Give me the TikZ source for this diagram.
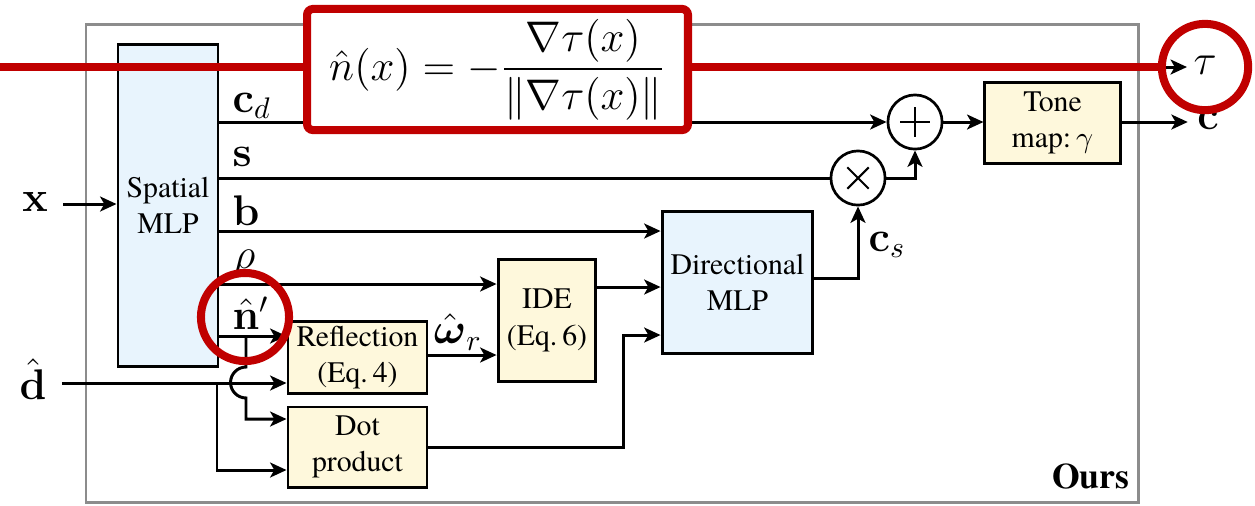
\documentclass[tikz,border=0pt]{standalone}
\usepackage{amsmath}
\usepackage[no-math]{fontspec}
\setmainfont{texgyretermes}[Extension=.otf, UprightFont=*-regular, BoldFont=*-bold,
  ItalicFont=*-italic, BoldItalicFont=*-bolditalic]
\usetikzlibrary{arrows.meta}
\definecolor{mlpblue}{HTML}{E8F4FD}
\definecolor{opyellow}{HTML}{FEF8DC}
\definecolor{hilite}{HTML}{C00000}
\definecolor{framegray}{HTML}{8C8C8C}
\tikzset{
  mlp/.style={draw, line width=1pt, fill=mlpblue, align=center, inner sep=0pt, font=\rmfamily\fontsize{10}{12}\selectfont},
  opbox/.style={draw, line width=1pt, fill=opyellow, align=center, inner sep=0pt, font=\rmfamily\fontsize{10}{12.2}\selectfont},
  opcirc/.style={draw, line width=0.9pt, circle, minimum size=18.2pt, inner sep=0pt},
  flow/.style={line width=1pt, -{Stealth[length=5.5pt,width=5pt,inset=1.4pt]}},
  wire/.style={line width=1pt},
  lbl/.style={inner sep=0pt, font=\fontsize{14}{16}\selectfont},
  redmark/.style={draw=hilite, line width=2.7pt},
}
\begin{document}
\begin{tikzpicture}[x=0.336pt, y=-0.336pt]
\useasboundingbox (0,0) rectangle (1255,505);

% outer frame
\draw[framegray, line width=1pt] (86,24) rectangle (1138,502);
\node[anchor=base east, inner sep=0pt, font=\rmfamily\fontsize{12}{14}\selectfont\bfseries] (ours) at (1130,488) {Ours};

% blocks
\node[mlp, minimum width=33.6pt, minimum height=108.5pt] (spatial) at (168,205.5) {Spatial\\MLP};
\node[mlp, minimum width=50.7pt, minimum height=48pt] (dir) at (737.5,282.5) {Directional\\MLP};
\node[opbox, minimum width=45.4pt, minimum height=26.9pt] (tone) at (1052.5,123) {Tone\\map:\,$\gamma$};
\node[opbox, minimum width=32.9pt, minimum height=41.3pt] (ide) at (547,320.5) {IDE\\(Eq.\,6)};
\node[opbox, minimum width=46.7pt, minimum height=24.5pt] (refl) at (357.5,357.5) {Reflection\\(Eq.\,4)};
\node[opbox, minimum width=46.7pt, minimum height=26.9pt] (dot) at (357.5,447) {Dot\\product};
\node[opcirc] (plus) at (915,122) {};
\node[opcirc] (times) at (858,178) {};
\draw[line width=0.8pt] ([xshift=-5pt]plus.center) -- ([xshift=5pt]plus.center)
  ([yshift=-5pt]plus.center) -- ([yshift=5pt]plus.center);
\draw[line width=0.7pt] ([shift={(-3.6pt,-3.6pt)}]times.center) -- ([shift={(3.6pt,3.6pt)}]times.center)
  ([shift={(-3.6pt,3.6pt)}]times.center) -- ([shift={(3.6pt,-3.6pt)}]times.center);

% inputs and outputs
\node[lbl] (xin) at (35,202) {$\mathbf{x}$};
\node[lbl] (din) at (33,379) {$\hat{\mathbf{d}}$};
\node[lbl] (cout) at (1208,120) {$\mathbf{c}$};
\node[lbl] (tau) at (1205,65) {$\tau$};

% row heights
\coordinate (yb) at (0,231);
\coordinate (yrho) at (0,284);
\coordinate (yide) at (0,287);
\coordinate (ycs) at (0,278);
\coordinate (yn) at (0,336);
\coordinate (yd) at (0,383);
\coordinate (yw) at (0,355);
\coordinate (ydot) at (0,447);
\coordinate (ydir) at (0,335);
\coordinate (bend) at (623,0);
\coordinate (nsplit) at (246,336);
\coordinate (dsplit) at (217,383);

% connectors
\draw[flow] ([xshift=5pt]xin.east |- 0,204) -- (spatial.west |- 0,204);
\draw[flow] (spatial.east |- plus) -- (plus.west);
\draw[wire] (spatial.east |- times) -- (times.west);
\draw[flow] (times.east) -| (plus.south);
\draw[flow] (plus.east) -- (plus.east -| tone.west);
\draw[flow] (tone.east |- plus) -- ([xshift=-3pt]cout.west |- plus);
\draw[flow] (spatial.east |- yb) -- (dir.west |- yb);
\draw[flow] (spatial.east |- yrho) -- (ide.west |- yrho);
\draw[flow] (ide.east |- yide) -- (dir.west |- yide);
\draw[flow] (dir.east |- ycs) -| (times.south);
\draw[flow] (spatial.east |- yn) -- (refl.west |- yn);
\draw[flow] ([xshift=5pt]din.east |- yd) -- (refl.west |- yd);
\draw[flow] (refl.east |- yw) -- (ide.west |- yw);
\draw[flow] (dot.east |- ydot) -| (bend |- ydir) -- (dir.west |- ydir);
\draw[flow] (nsplit) -- (246,367) arc[start angle=90, end angle=270, radius=5.2pt]
  -- (246,419) -- (dot.west |- 0,419);
\draw[flow] (dsplit) |- (dot.west |- 0,470);

% signal labels
\node[lbl, anchor=west] (lcd) at (232,106) {$\mathbf{c}_d$};
\node[lbl, anchor=west] (ls) at (232,157) {$\mathbf{s}$};
\node[lbl, anchor=west] (lb) at (232,211) {$\mathbf{b}$};
\node[lbl, anchor=west] (lrho) at (233,263) {$\rho$};
\node[lbl, anchor=west] (ln) at (232,313) {$\hat{\mathbf{n}}'$};
\node[lbl] (lw) at (458,332) {$\hat{\boldsymbol{\omega}}_r$};
\node[lbl, anchor=west] (lcs) at (868,245) {$\mathbf{c}_s$};

% highlighted normal definition
\draw[flow] (1140,67) -- ([xshift=-2pt]tau.west |- 0,67);
\draw[redmark] (0,67) -- (1162,67);
\node[redmark, fill=white, rounded corners=2pt, minimum width=128pt, minimum height=40.7pt, inner sep=0pt,
  font=\fontsize{15.5}{18}\selectfont] (eq) at (497.5,69.5)
  {$\displaystyle \hat{n}(x) = -\frac{\nabla\tau(x)}{\lVert\nabla\tau(x)\rVert}$};
\draw[redmark] (1205,67) circle[radius=14.5pt];
\draw[redmark] (245,317) circle[radius=14.8pt];
\end{tikzpicture}
\end{document}
